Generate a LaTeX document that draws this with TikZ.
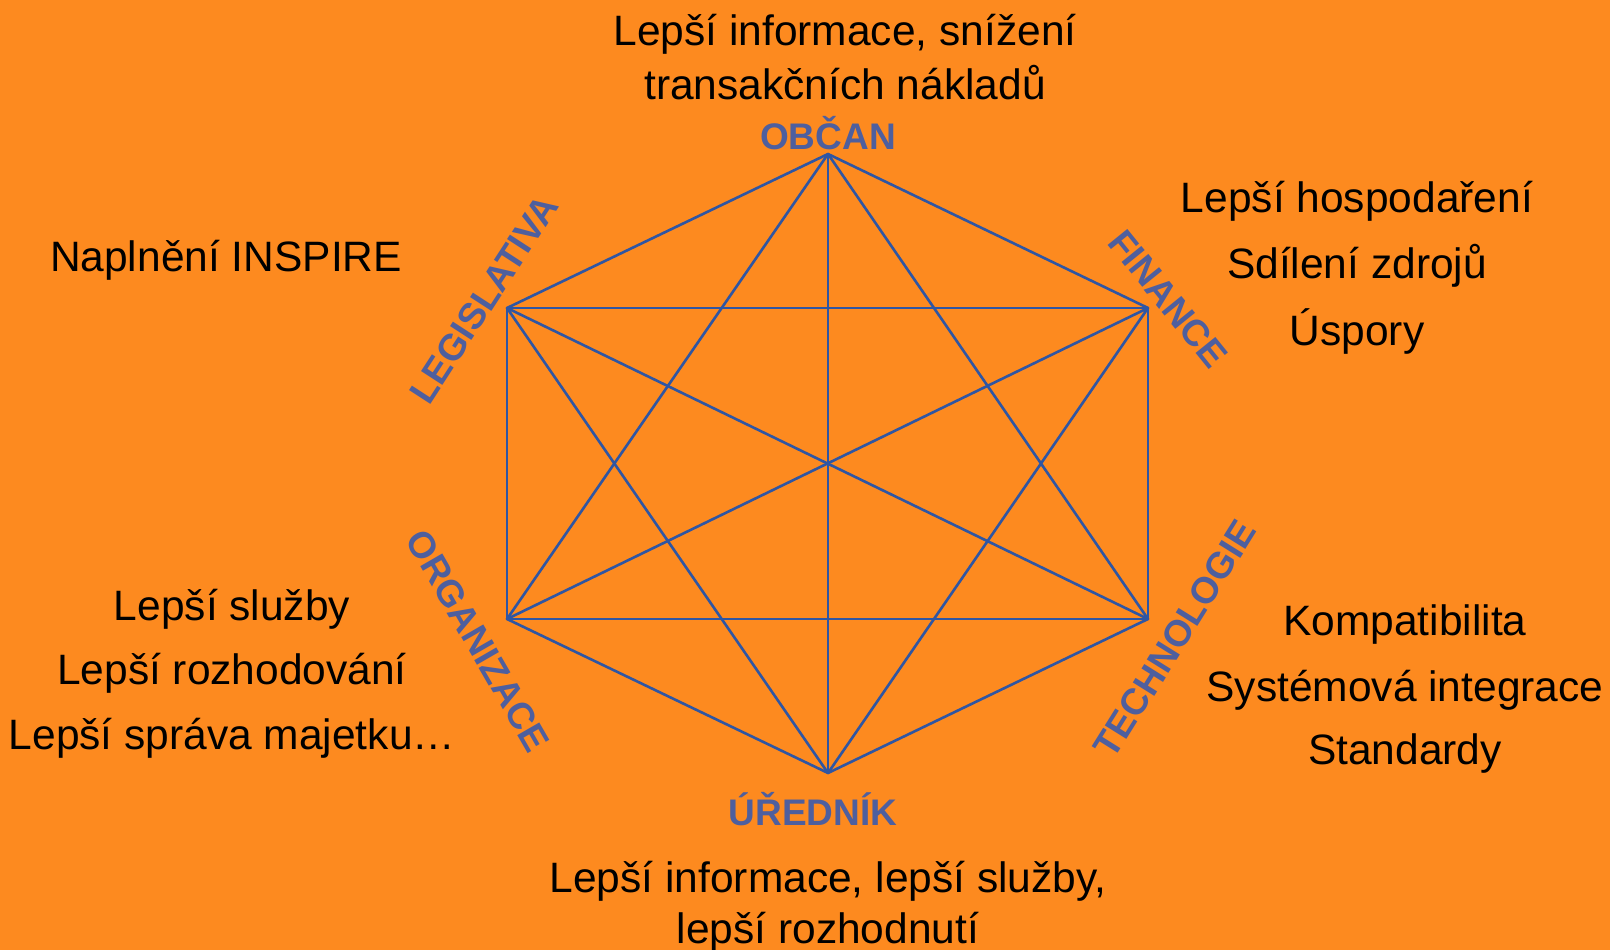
\documentclass[tikz,border=0pt]{standalone}
\usepackage{fontspec}
\setmainfont{Liberation Sans}
\definecolor{bgorange}{HTML}{FD8A1F}
\definecolor{labelblue}{HTML}{4E5F9E}
\definecolor{lineblue}{HTML}{2F56A3}
\tikzset{
  txt/.style={inner sep=0pt, font=\fontsize{42.5}{49}\selectfont, text=black},
  lbl/.style={inner sep=0pt, font=\fontsize{37}{44}\selectfont\bfseries, text=labelblue},
  edge/.style={draw=lineblue, line width=2.6pt},
}
\begin{document}
\begin{tikzpicture}[x=1pt,y=-1pt]
\fill[bgorange] (0,0) rectangle (1610,950);
\useasboundingbox (0,0) rectangle (1610,950);
% vertices
\coordinate (T) at (828,154);
\coordinate (UR) at (1148,308);
\coordinate (LR) at (1148,619);
\coordinate (B) at (828,773);
\coordinate (LL) at (507,619);
\coordinate (UL) at (507,308);
% all 15 connections
\foreach \a/\b in {T/UR,UR/LR,LR/B,B/LL,LL/UL,UL/T,T/LL,T/LR,T/B,UL/UR,LL/LR,UL/LR,UR/LL,UL/B,UR/B}
  \draw[edge, line join=round, line cap=round] (\a) -- (\b);
% blue labels
\node[lbl] (obcan) at (828,133) {OBČAN};
\node[lbl] (urednik) at (813,809) {ÚŘEDNÍK};
\node[lbl, rotate=57] (legis) at (484,299) {LEGISLATIVA};
\node[lbl, rotate=-51] (fin) at (1168,299) {FINANCE};
\node[lbl, rotate=-60] (org) at (478,641) {ORGANIZACE};
\node[lbl, rotate=58] (tech) at (1175,639) {TECHNOLOGIE};
% black texts
\node[txt] (t1) at (845,34) {Lepší informace, snížení};
\node[txt] (t2) at (845,83) {transakčních nákladů};
\node[txt] (insp) at (226,260) {Naplnění INSPIRE};
\node[txt] (f1) at (1357,201) {Lepší hospodaření};
\node[txt] (f2) at (1357,266) {Sdílení zdrojů};
\node[txt] (f3) at (1357,331) {Úspory};
\node[txt] (k1) at (1405,625) {Kompatibilita};
\node[txt] (k2) at (1405,690) {Systémová integrace};
\node[txt] (k3) at (1405,754) {Standardy};
\node[txt] (o1) at (232,609) {Lepší služby};
\node[txt] (o2) at (232,673) {Lepší rozhodování};
\node[txt] (o3) at (232,738) {Lepší správa majetku…};
\node[txt] (b1) at (828,881) {Lepší informace, lepší služby,};
\node[txt] (b2) at (828,932) {lepší rozhodnutí};
\end{tikzpicture}
\end{document}
